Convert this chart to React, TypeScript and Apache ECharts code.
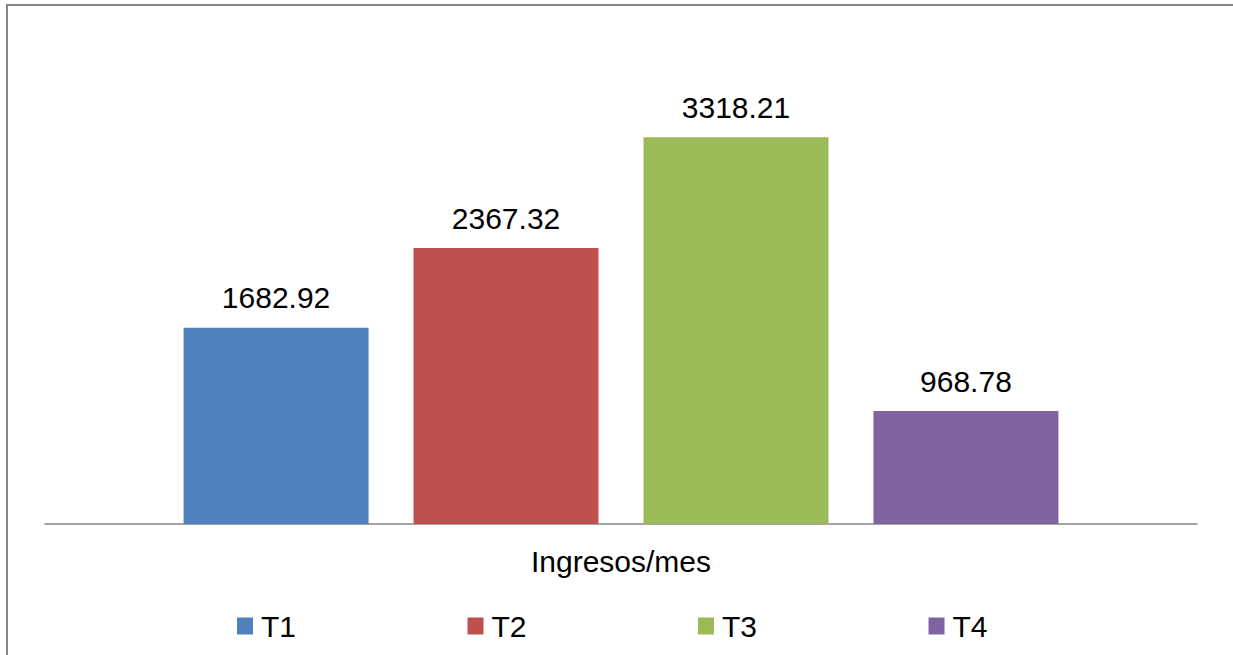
import React, { useEffect, useRef } from "react";
import * as echarts from "echarts";

const categories = ["Ingresos/mes"];
const seriesNames = ["T1", "T2", "T3", "T4"];
const seriesValues = [[1682.92], [2367.32], [3318.21], [968.78]];
const seriesColors = ["#4F81BD", "#C0504D", "#9BBB59", "#8064A2"];

const FONT = "'Liberation Sans', Arial, sans-serif";

export default function App() {
  const ref = useRef<HTMLDivElement>(null);
  useEffect(() => {
    if (!ref.current) return;
    const chart = echarts.init(ref.current, undefined, { renderer: "svg" });
    chart.setOption({
      animation: false,
      backgroundColor: "#ffffff",
      textStyle: { fontFamily: FONT },
      grid: { left: 45, right: 36, top: 116, bottom: 131, containLabel: false },
      xAxis: {
        type: "category",
        data: categories,
        axisLine: { show: true, lineStyle: { color: "#868686", width: 1.5 } },
        axisTick: { show: false },
        axisLabel: { fontSize: 30, color: "#000", fontFamily: FONT, margin: 22 },
      },
      yAxis: {
        type: "value",
        min: 0,
        max: 3500,
        interval: 500,
        show: false,
        splitLine: { show: false },
      },
      legend: {
        left: 232,
        top: 606,
        itemWidth: 16,
        itemHeight: 17,
        itemGap: 171.5,
        icon: "rect",
        textStyle: { fontSize: 30, color: "#000", fontFamily: FONT, padding: [0, 0, 0, 3] },
        data: seriesNames,
      },
      series: seriesNames.map((name, i) => ({
        name,
        type: "bar",
        data: seriesValues[i],
        barWidth: 185,
        barGap: "24.3%",
        itemStyle: { color: seriesColors[i] },
        label: {
          show: true,
          position: "top",
          distance: 15,
          fontSize: 30,
          color: "#000",
          fontFamily: FONT,
          formatter: (p: any) => p.value.toFixed(2),
        },
      })),
      graphic: {
        elements: [
          { type: "rect", z: 100, silent: true, shape: { x: 6, y: 4, width: 1227, height: 2 }, style: { fill: "#868686" } },
          { type: "rect", z: 100, silent: true, shape: { x: 6, y: 4, width: 2, height: 651 }, style: { fill: "#868686" } },
        ],
      },
    });
    return () => chart.dispose();
  }, []);
  return (
    <div
      ref={ref}
      style={{ position: "fixed", left: 0, top: 0, width: 1233, height: 655, background: "#fff" }}
    />
  );
}
